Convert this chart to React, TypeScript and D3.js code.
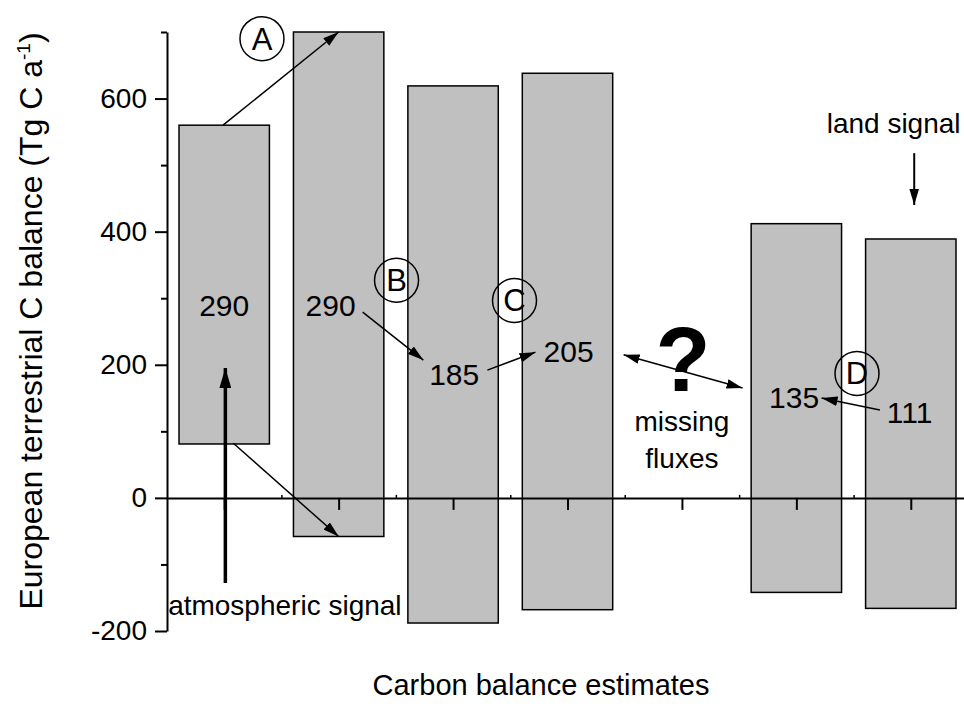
import * as d3 from "d3";
import {useEffect, useRef} from "react";

// bar positions on the estimate axis (slot 5 is the empty "missing fluxes" gap)
const estimates = [1, 2, 3, 4, 6, 7];
const upper = [560, 700, 619, 638, 412, 389];
const lower = [81, -58, -188, -168, -142, -166];

const yMajorTicks = [-200, 0, 200, 400, 600];
const yMinorTicks = [-100, 100, 300, 500, 700];
const xMajorTicks = [1, 2, 3, 4, 5, 6, 7];
const xMinorTicks = [1.5, 2.5, 3.5, 4.5, 5.5, 6.5];

// annotations, in data units (estimate slot, Tg C a-1)
const arrows = [
    {x1: 0.99, y1: 560, x2: 2, y2: 700, w: 1.5, both: false},
    {x1: 1.08, y1: 82, x2: 2, y2: -58, w: 1.5, both: false},
    {x1: 2.21, y1: 279, x2: 2.74, y2: 207, w: 1.5, both: false},
    {x1: 3.3, y1: 192, x2: 3.72, y2: 219, w: 1.5, both: false},
    {x1: 4.49, y1: 215, x2: 5.53, y2: 165, w: 1.5, both: true},
    {x1: 6.73, y1: 132, x2: 6.22, y2: 150, w: 1.5, both: false},
    {x1: 7.03, y1: 518, x2: 7.03, y2: 440, w: 2, both: false},
    {x1: 1.01, y1: -128, x2: 1.01, y2: 195, w: 3.5, both: false},
];

const numberLabels = [
    {x: 1, y: 273, text: "290"},
    {x: 1.93, y: 273, text: "290"},
    {x: 3.01, y: 170, text: "185"},
    {x: 4.01, y: 204, text: "205"},
    {x: 5.98, y: 135, text: "135"},
    {x: 6.99, y: 113, text: "111"},
];

const textLabels = [
    {x: 5.0, y: 101, text: "missing"},
    {x: 5.0, y: 45, text: "fluxes"},
    {x: 1.53, y: -176, text: "atmospheric signal"},
    {x: 6.85, y: 548, text: "land signal"},
];

const circled = [
    {x: 1.33, y: 690, text: "A"},
    {x: 2.506, y: 327, text: "B"},
    {x: 3.537, y: 296.6, text: "C"},
    {x: 6.53, y: 187, text: "D"},
];

const font = "'Liberation Sans', Arial, Helvetica, sans-serif";

const useD3 = (renderChartFn, dependencies) => {
    const ref = useRef();
    useEffect(() => {
        renderChartFn(d3.select(ref.current));
        return () => {};
    }, dependencies);
    return ref;
}

const App = () => {
    const width = 964;
    const height = 716;

    const ref = useD3((svg) => {
        svg.selectAll("*").remove();

        const x = d3.scaleLinear().domain([0.5, 7.5]).range([167, 968]);
        const y = d3.scaleLinear().domain([-200, 700]).range([631, 32]);
        const barHalf = 0.395;

        const defs = svg.append("defs");
        const marker = (id, size) => {
            defs.append("marker")
                .attr("id", id)
                .attr("viewBox", "0 0 10 10")
                .attr("refX", 10)
                .attr("refY", 5)
                .attr("markerUnits", "userSpaceOnUse")
                .attr("markerWidth", size)
                .attr("markerHeight", size * 0.6)
                .attr("orient", "auto-start-reverse")
                .attr("preserveAspectRatio", "none")
                .append("path")
                .attr("d", "M0,0 L10,5 L0,10 Z")
                .attr("fill", "black");
        }
        marker("head", 16);
        marker("headBig", 20);

        // bars
        svg.append("g")
            .selectAll("rect")
            .data(estimates)
            .enter()
            .append("rect")
            .attr("x", (d) => x(d - barHalf))
            .attr("width", (d) => x(d + barHalf) - x(d - barHalf))
            .attr("y", (d, i) => y(upper[i]))
            .attr("height", (d, i) => y(lower[i]) - y(upper[i]))
            .attr("fill", "#c0c0c0")
            .attr("stroke", "black")
            .attr("stroke-width", 1.5);

        // y axis: major ticks with labels, minor ticks in their own group
        const yAxis = svg.append("g").attr("transform", `translate(${x(0.5)},0)`)
            .call(d3.axisLeft(y).tickValues(yMajorTicks).tickSize(12).tickSizeOuter(0).tickPadding(8)
                .tickFormat((d) => String(d)));
        const yMinor = svg.append("g").attr("transform", `translate(${x(0.5)},0)`)
            .call(d3.axisLeft(y).tickValues(yMinorTicks).tickSize(6).tickSizeOuter(0).tickFormat(() => ""));
        yMinor.select(".domain").remove();
        yAxis.selectAll("path, line").attr("stroke", "black").attr("stroke-width", 2);
        yMinor.selectAll("line").attr("stroke", "black").attr("stroke-width", 2);
        yAxis.selectAll("text")
            .attr("font-family", font)
            .attr("font-size", 28)
            .attr("fill", "black");

        // zero line with estimate ticks
        const xAxis = svg.append("g").attr("transform", `translate(0,${y(0)})`)
            .call(d3.axisBottom(x).tickValues(xMajorTicks).tickSize(12).tickSizeOuter(0).tickFormat(() => ""));
        const xMinor = svg.append("g").attr("transform", `translate(0,${y(0)})`)
            .call(d3.axisTop(x).tickValues(xMinorTicks).tickSize(3).tickSizeOuter(0).tickFormat(() => ""));
        xMinor.select(".domain").remove();
        xAxis.selectAll("path, line").attr("stroke", "black").attr("stroke-width", 2);
        xMinor.selectAll("line").attr("stroke", "black").attr("stroke-width", 1.5);

        // arrows
        svg.append("g")
            .selectAll("line")
            .data(arrows)
            .enter()
            .append("line")
            .attr("x1", (d) => x(d.x1))
            .attr("y1", (d) => y(d.y1))
            .attr("x2", (d) => x(d.x2))
            .attr("y2", (d) => y(d.y2))
            .attr("stroke", "black")
            .attr("stroke-width", (d) => d.w)
            .attr("marker-end", (d) => d.w > 3 ? "url(#headBig)" : "url(#head)")
            .attr("marker-start", (d) => d.both ? "url(#head)" : null);

        // circled letters
        const circles = svg.append("g")
            .selectAll("g")
            .data(circled)
            .enter()
            .append("g")
            .attr("transform", (d) => `translate(${x(d.x)},${y(d.y)})`);
        circles.append("circle")
            .attr("r", 22)
            .attr("fill", "none")
            .attr("stroke", "black")
            .attr("stroke-width", 1.5);
        circles.append("text")
            .attr("text-anchor", "middle")
            .attr("y", 11)
            .attr("font-family", font)
            .attr("font-size", 31)
            .text((d) => d.text);

        svg.append("g")
            .selectAll("text")
            .data(numberLabels)
            .enter()
            .append("text")
            .attr("x", (d) => x(d.x))
            .attr("y", (d) => y(d.y))
            .attr("text-anchor", "middle")
            .attr("font-family", font)
            .attr("font-size", 30)
            .text((d) => d.text);

        svg.append("g")
            .selectAll("text")
            .data(textLabels)
            .enter()
            .append("text")
            .attr("x", (d) => x(d.x))
            .attr("y", (d) => y(d.y))
            .attr("text-anchor", "middle")
            .attr("font-family", font)
            .attr("font-size", 28)
            .text((d) => d.text);

        svg.append("text")
            .attr("x", x(5.01))
            .attr("y", y(160))
            .attr("text-anchor", "middle")
            .attr("font-family", font)
            .attr("font-weight", "bold")
            .attr("font-size", 90)
            .text("?");

        // axis titles
        svg.append("text")
            .attr("x", 541)
            .attr("y", 695)
            .attr("text-anchor", "middle")
            .attr("font-family", font)
            .attr("font-size", 29)
            .text("Carbon balance estimates");

        const yTitle = svg.append("text")
            .attr("transform", "translate(42,321) rotate(-90)")
            .attr("text-anchor", "middle")
            .attr("font-family", font)
            .attr("font-size", 32);
        yTitle.append("tspan").text("European terrestrial C balance (Tg C a");
        yTitle.append("tspan").attr("dy", -12).attr("font-size", 19).text("-1");
        yTitle.append("tspan").attr("dy", 12).text(")");
    }, []);

    return (
        <svg
            ref={ref}
            width={width}
            height={height}
            style={{position: "absolute", left: 0, top: 0, background: "white"}}>
        </svg>
    )
}

export default App;
